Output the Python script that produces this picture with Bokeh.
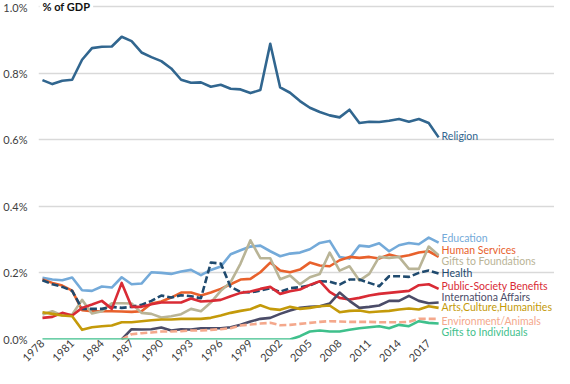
import math
import numpy as np
from bokeh.plotting import figure
from bokeh.models import Range1d, FixedTicker, PrintfTickFormatter, Label, LabelSet, ColumnDataSource
from bokeh.core.properties import value
from bokeh.embed import file_html
from bokeh.resources import INLINE

years = list(range(1978, 2019))
nan = float("nan")

religion = [0.779, 0.767, 0.777, 0.780, 0.840, 0.875, 0.879, 0.880, 0.909, 0.896,
            0.862, 0.848, 0.836, 0.814, 0.780, 0.771, 0.772, 0.759, 0.765, 0.753,
            0.751, 0.740, 0.749, 0.888, 0.757, 0.741, 0.716, 0.696, 0.683, 0.673,
            0.667, 0.690, 0.650, 0.654, 0.653, 0.657, 0.662, 0.654, 0.662, 0.650,
            0.607]
education = [0.185, 0.180, 0.178, 0.186, 0.148, 0.146, 0.159, 0.156, 0.187, 0.166,
             0.168, 0.202, 0.200, 0.197, 0.204, 0.209, 0.193, 0.209, 0.219, 0.256,
             0.268, 0.279, 0.282, 0.265, 0.250, 0.258, 0.261, 0.271, 0.290, 0.296,
             0.248, 0.243, 0.282, 0.279, 0.289, 0.265, 0.283, 0.290, 0.286, 0.306,
             0.291]
human_services = [0.180, 0.170, 0.162, 0.147, 0.088, 0.085, 0.085, 0.085, 0.084, 0.083,
                  0.085, 0.108, 0.114, 0.126, 0.141, 0.141, 0.132, 0.141, 0.152, 0.166,
                  0.180, 0.182, 0.202, 0.231, 0.207, 0.202, 0.210, 0.231, 0.222, 0.220,
                  0.238, 0.248, 0.245, 0.248, 0.243, 0.255, 0.248, 0.253, 0.261, 0.265,
                  0.248]
foundations = [0.075, 0.085, 0.072, 0.075, 0.119, 0.078, 0.085, 0.109, 0.109, 0.108,
               0.080, 0.077, 0.066, 0.070, 0.076, 0.092, 0.085, 0.111, 0.146, 0.172,
               0.228, 0.298, 0.244, 0.244, 0.181, 0.192, 0.166, 0.187, 0.197, 0.261,
               0.207, 0.220, 0.177, 0.197, 0.248, 0.245, 0.248, 0.212, 0.212, 0.279,
               0.253]
health = [0.178, 0.166, 0.158, 0.146, 0.092, 0.092, 0.092, 0.098, 0.095, 0.098,
          0.104, 0.116, 0.132, 0.126, 0.133, 0.130, 0.124, 0.231, 0.228, 0.158,
          0.143, 0.141, 0.147, 0.154, 0.143, 0.154, 0.157, 0.162, 0.175, 0.174,
          0.165, 0.180, 0.180, 0.170, 0.160, 0.190, 0.190, 0.188, 0.200, 0.207,
          0.198]
public_society = [0.065, 0.068, 0.080, 0.072, 0.095, 0.105, 0.116, 0.092, 0.170, 0.098,
                  0.098, 0.106, 0.111, 0.111, 0.111, 0.123, 0.114, 0.116, 0.119, 0.130,
                  0.140, 0.144, 0.152, 0.158, 0.137, 0.145, 0.150, 0.164, 0.175, 0.143,
                  0.125, 0.120, 0.125, 0.132, 0.137, 0.140, 0.143, 0.146, 0.163, 0.166,
                  0.152]
international = [nan, nan, nan, nan, nan, nan, nan, nan, 0.0, 0.031,
                 0.030, 0.031, 0.036, 0.027, 0.031, 0.030, 0.034, 0.034, 0.034, 0.037,
                 0.044, 0.054, 0.062, 0.065, 0.077, 0.087, 0.095, 0.098, 0.100, 0.108,
                 0.141, 0.116, 0.095, 0.098, 0.102, 0.116, 0.116, 0.131, 0.116, 0.109,
                 0.111]
arts = [0.082, 0.077, 0.072, 0.070, 0.029, 0.037, 0.040, 0.042, 0.052, 0.052,
        0.055, 0.058, 0.060, 0.060, 0.062, 0.062, 0.062, 0.065, 0.072, 0.080,
        0.086, 0.091, 0.103, 0.092, 0.089, 0.098, 0.092, 0.095, 0.100, 0.102,
        0.082, 0.086, 0.087, 0.082, 0.084, 0.086, 0.090, 0.093, 0.090, 0.100,
        0.095]
environment = [nan, nan, nan, nan, nan, nan, nan, nan, 0.0, 0.016,
               0.019, 0.021, 0.024, 0.024, 0.025, 0.027, 0.027, 0.029, 0.031, 0.034,
               0.042, 0.045, 0.048, 0.050, 0.043, 0.044, 0.047, 0.050, 0.053, 0.055,
               0.054, 0.053, 0.053, 0.053, 0.052, 0.052, 0.052, 0.053, 0.062, 0.062,
               0.062]
individuals = [0.0] * 26 + [0.010, 0.024, 0.027, 0.024, 0.024, 0.029, 0.034, 0.037,
                            0.040, 0.034, 0.044, 0.040, 0.055, 0.050, 0.048]

names = ["Religion", "Education", "Human Services", "Gifts to Foundations", "Health",
         "Public-Society Benefits", "Internationa Affairs", "Arts,Culture,Humanities",
         "Environment/Animals", "Gifts to Individuals"]
series = [religion, education, human_services, foundations, health, public_society,
          international, arts, environment, individuals]
colors = ["#31668f", "#74aad9", "#e8612c", "#b9b496", "#1f4a6e", "#d92b35",
          "#4b4c68", "#c49a0a", "#f4a88c", "#3fc08c"]
dashes = ["solid", "solid", "solid", "solid", "7 3", "solid", "solid", "solid", "7 3", "solid"]
# label anchor heights (layout) in % of GDP units
label_y = [0.611, 0.304, 0.270, 0.237, 0.199, 0.160, 0.128, 0.097, 0.056, 0.023]

FONT = "Lato"
X0, X1 = 1977.6, 2018.5

p = figure(width=554, height=368, output_backend="svg", toolbar_location=None,
           x_range=Range1d(X0, 2029.7), y_range=Range1d(0, 1.018),
           min_border_left=33, min_border_right=0, min_border_top=0, min_border_bottom=20)
p.outline_line_color = None
p.background_fill_color = "white"
p.xgrid.visible = False
p.ygrid.grid_line_color = "#d9d9d9"
p.ygrid.grid_line_width = 1.5
p.ygrid.bounds = (X0, X1)

p.yaxis.ticker = FixedTicker(ticks=[0, 0.2, 0.4, 0.6, 0.8, 1.0])
p.yaxis.formatter = PrintfTickFormatter(format="%.1f%%")
p.xaxis.ticker = FixedTicker(ticks=years[::3])
p.xaxis.major_label_orientation = math.pi / 4
for ax in (p.xaxis, p.yaxis):
    ax.axis_line_color = None
    ax.major_tick_line_color = None
    ax.minor_tick_line_color = None
    ax.major_tick_out = 0
    ax.major_tick_in = 0
    ax.minor_tick_out = 0
    ax.axis_label_standoff = 0
    ax.major_label_text_font = FONT
    ax.major_label_text_font_size = "11px"
    ax.major_label_text_color = "#404040"
p.yaxis.major_label_standoff = 11
p.xaxis.major_label_standoff = 2

for ys, c, d in zip(series, colors, dashes):
    p.line(years, ys, line_color=c, line_width=2.6, line_dash=d, line_join="round")

src = ColumnDataSource(dict(x=[years[-1]] * len(names), y=label_y, text=names, color=colors))
p.add_layout(LabelSet(x="x", y="y", text="text", source=src, x_offset=3,
                      text_color="color", text_font=value(FONT), text_font_size="10.5px",
                      text_baseline="middle", text_align="left"))

p.add_layout(Label(x=X0, y=1.0, text="% of GDP", text_font=FONT, text_font_size="11px",
                   text_font_style="bold", text_color="#111111", text_baseline="middle",
                   text_align="left", x_offset=1, background_fill_color="white", padding=3))

open("out.html", "w").write(file_html(p, INLINE))
